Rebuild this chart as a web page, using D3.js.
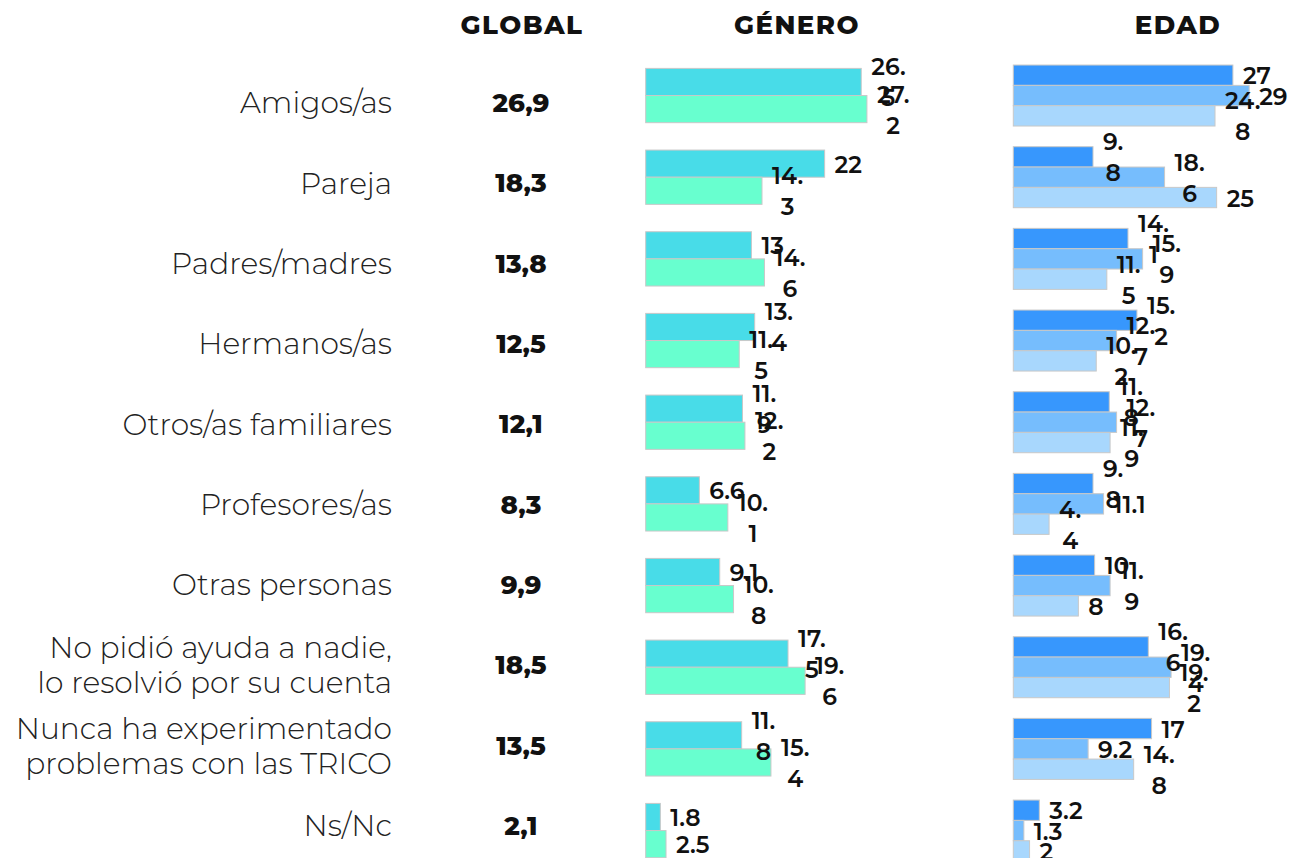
<!DOCTYPE html>
<html>
<head>
<meta charset="utf-8">
<script src="https://cdn.jsdelivr.net/npm/d3@7"></script>
<style>
  body { margin: 0; background: #fff; }
  svg { display: block; }
</style>
</head>
<body>
<svg id="chart" width="1314" height="858"></svg>
<script>
// Who they asked for help (%), overall and split by gender and age group
const categories = [
  "Amigos/as",
  "Pareja",
  "Padres/madres",
  "Hermanos/as",
  "Otros/as familiares",
  "Profesores/as",
  "Otras personas",
  "No pidió ayuda a nadie,\nlo resolvió por su cuenta",
  "Nunca ha experimentado\nproblemas con las TRICO",
  "Ns/Nc"
];
const headers = ["GLOBAL", "GÉNERO", "EDAD"];
const globalValues = [26.9, 18.3, 13.8, 12.5, 12.1, 8.3, 9.9, 18.5, 13.5, 2.1];

const generoSeries = ["generoA", "generoB"];
const generoA = [26.5, 22, 13, 13.4, 11.9, 6.6, 9.1, 17.5, 11.8, 1.8];
const generoB = [27.2, 14.3, 14.6, 11.5, 12.2, 10.1, 10.8, 19.6, 15.4, 2.5];

const edadSeries = ["edad1", "edad2", "edad3"];
const edad1 = [27, 9.8, 14.1, 15.2, 11.8, 9.8, 10, 16.6, 17, 3.2];
const edad2 = [29, 18.6, 15.9, 12.7, 12.7, 11.1, 11.9, 19.4, 9.2, 1.3];
const edad3 = [24.8, 25, 11.5, 10.2, 11.9, 4.4, 8, 19.2, 14.8, 2];

const FONT = "Montserrat, Inter, 'Noto Sans', sans-serif";
const svg = d3.select("#chart");

// scales
const x = d3.scaleLinear().domain([0, 30]).range([0, 244]);
const yRow = d3.scaleBand().domain(categories).range([54.7, 871.4]).padding(0);
const yText = d3.scalePoint().domain(categories).range([103, 826]);
const yGen = d3.scaleBand().domain(generoSeries).range([0, 54.3]);
const yEdad = d3.scaleBand().domain(edadSeries).range([0, 61]);
const colGen = d3.scaleOrdinal().domain(generoSeries).range(["#48dce8", "#68ffcf"]);
const colEdad = d3.scaleOrdinal().domain(edadSeries).range(["#3797fd", "#76bdfd", "#a8d7fd"]);

const headerX = { "GLOBAL": 522, "GÉNERO": 797, "EDAD": 1178 };
const sectionX = { genero: 645.7, edad: 1013.3 };
const fmtComma = d => d3.format(".1f")(d).replace(".", ",");

// column headers
svg.append("g").selectAll("text").data(headers).join("text")
  .attr("x", d => headerX[d]).attr("y", 34)
  .attr("text-anchor", "middle")
  .attr("font-family", FONT).attr("font-weight", 800).attr("font-size", 26)
  .attr("letter-spacing", 1.5)
  .attr("fill", "#111")
  .text(d => d);

// category labels (right aligned, may span two lines)
const catG = svg.append("g");
categories.forEach(c => {
  const lines = c.split("\n");
  const lh = 35;
  const t = catG.append("text")
    .attr("text-anchor", "end")
    .attr("font-family", FONT).attr("font-weight", 300).attr("font-size", 29.7)
    .attr("fill", "#222");
  lines.forEach((ln, i) => {
    t.append("tspan")
      .attr("x", 392)
      .attr("y", yText(c) + (i - (lines.length - 1) / 2) * lh)
      .attr("dy", "0.35em")
      .text(ln);
  });
});

// global values
svg.append("g").selectAll("text").data(categories).join("text")
  .attr("x", 521).attr("y", c => yText(c)).attr("dy", "0.35em")
  .attr("text-anchor", "middle")
  .attr("font-family", FONT).attr("font-weight", 800).attr("font-size", 26)
  .attr("fill", "#111")
  .text((c, i) => fmtComma(globalValues[i]));

// value labels break after the decimal point when wider than the label box
const emWidth = { "0": .70, "1": .40, "2": .61, "3": .62, "4": .70, "5": .62,
                  "6": .66, "7": .61, "8": .68, "9": .66, ".": .27 };
function splitLabel(v) {
  const s = String(v);
  const w = d3.sum(Array.from(s), ch => emWidth[ch] || .6);
  if (w > 1.6 && s.includes(".")) {
    const k = s.indexOf(".") + 1;
    return [s.slice(0, k), s.slice(k)];
  }
  return [s];
}

function drawSection(x0, keys, seriesValues, ySub, color) {
  const offset = (yRow.bandwidth() - ySub.range()[1]) / 2;
  const items = [];
  categories.forEach((c, i) => {
    keys.forEach((k, j) => items.push({ c, k, v: seriesValues[j][i] }));
  });
  const g = svg.append("g").attr("transform", `translate(${x0},0)`);
  g.append("g").selectAll("rect").data(items).join("rect")
    .attr("x", 0)
    .attr("y", d => yRow(d.c) + offset + ySub(d.k))
    .attr("width", d => x(d.v))
    .attr("height", ySub.bandwidth())
    .attr("fill", d => color(d.k))
    .attr("stroke", "#c8c8c8").attr("stroke-width", 1);

  const lg = g.append("g");
  items.forEach(d => {
    const cy = yRow(d.c) + offset + ySub(d.k) + ySub.bandwidth() / 2;
    const lines = splitLabel(d.v);
    const lh = 31;
    const base = cy + 9;
    const first = lg.append("text")
      .attr("x", x(d.v) + 10)
      .attr("y", base - (lines.length - 1) / 2 * lh)
      .attr("font-family", FONT).attr("font-weight", 600).attr("font-size", 23.5)
      .attr("fill", "#111")
      .text(lines[0]);
    if (lines.length > 1) {
      const w = first.node().getComputedTextLength();
      lg.append("text")
        .attr("x", x(d.v) + 10 + w / 2)
        .attr("y", base + lh / 2)
        .attr("text-anchor", "middle")
        .attr("font-family", FONT).attr("font-weight", 600).attr("font-size", 23.5)
        .attr("fill", "#111")
        .text(lines[1]);
    }
  });
}

drawSection(sectionX.genero, generoSeries, [generoA, generoB], yGen, colGen);
drawSection(sectionX.edad, edadSeries, [edad1, edad2, edad3], yEdad, colEdad);
</script>
</body>
</html>
